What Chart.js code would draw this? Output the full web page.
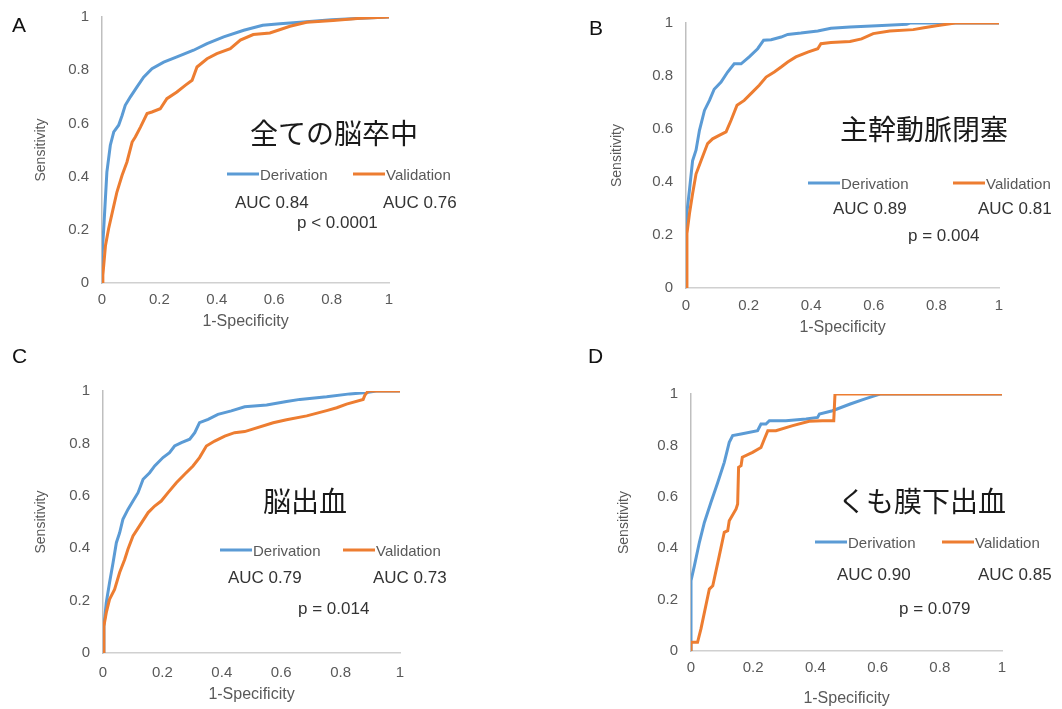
<!DOCTYPE html>
<html>
<head>
<meta charset="utf-8">
<script src="https://cdn.jsdelivr.net/npm/chart.js@4"></script>
<style>
  body { margin: 0; background: #fff; }
  #page { position: relative; width: 1062px; height: 709px; overflow: hidden; font-family: "Liberation Sans", Arial, sans-serif; }
  canvas { position: absolute; }
  .txt { position: absolute; white-space: nowrap; transform: translateY(-50%); line-height: 1; }
  .letter { font-size: 21px; color: #111; }
  .jp { font-family: "Noto Sans CJK JP", sans-serif; font-size: 28px; color: #1a1a1a; }
  .leg { font-size: 15px; color: #595959; }
  .auc { font-size: 17px; color: #333; }
  .swatch { position: absolute; height: 3px; transform: translateY(-50%); }
</style>
</head>
<body>
<div id="page"></div>
<script>
const tickLabels = ["0", "0.2", "0.4", "0.6", "0.8", "1"];
const seriesNames = ["Derivation", "Validation"];
const seriesColors = ["#5B9BD5", "#ED7D31"];
const letters = ["A", "B", "C", "D"];
const titles = ["全ての脳卒中", "主幹動脈閉塞", "脳出血", "くも膜下出血"];
const aucDeriv = ["AUC 0.84", "AUC 0.89", "AUC 0.79", "AUC 0.90"];
const aucValid = ["AUC 0.76", "AUC 0.81", "AUC 0.73", "AUC 0.85"];
const pLabels = ["p < 0.0001", "p = 0.004", "p = 0.014", "p = 0.079"];

// A: all strokes
const aDerivX = [0, 0, 0.006, 0.017, 0.029, 0.041, 0.058, 0.07, 0.081, 0.099, 0.122, 0.145, 0.174, 0.215, 0.261, 0.319, 0.366, 0.424, 0.494, 0.56, 0.62, 0.69, 0.8, 0.9, 1];
const aDerivY = [0, 0.1, 0.204, 0.417, 0.518, 0.568, 0.593, 0.63, 0.668, 0.7, 0.737, 0.774, 0.806, 0.83, 0.85, 0.875, 0.9, 0.925, 0.95, 0.969, 0.975, 0.98, 0.99, 0.995, 1];
const aValidX = [0, 0.003, 0.012, 0.023, 0.041, 0.052, 0.07, 0.087, 0.105, 0.116, 0.134, 0.157, 0.174, 0.203, 0.226, 0.261, 0.29, 0.314, 0.331, 0.366, 0.4, 0.447, 0.482, 0.527, 0.585, 0.655, 0.713, 0.805, 0.9, 1];
const aValidY = [0, 0.03, 0.14, 0.204, 0.29, 0.342, 0.405, 0.455, 0.53, 0.549, 0.586, 0.637, 0.643, 0.655, 0.693, 0.718, 0.743, 0.762, 0.812, 0.843, 0.862, 0.881, 0.913, 0.934, 0.94, 0.965, 0.98, 0.987, 0.995, 1];

// B: large vessel occlusion
const bDerivX = [0, 0, 0.003, 0.011, 0.021, 0.032, 0.043, 0.059, 0.075, 0.09, 0.112, 0.133, 0.154, 0.176, 0.202, 0.229, 0.248, 0.272, 0.304, 0.325, 0.367, 0.421, 0.463, 0.524, 0.61, 0.705, 0.715, 1];
const bDerivY = [0, 0.2, 0.27, 0.369, 0.48, 0.52, 0.595, 0.67, 0.708, 0.75, 0.777, 0.815, 0.846, 0.846, 0.872, 0.903, 0.935, 0.937, 0.947, 0.957, 0.962, 0.97, 0.98, 0.985, 0.99, 0.995, 1, 1];
const bValidX = [0, 0.003, 0.011, 0.021, 0.032, 0.048, 0.069, 0.085, 0.106, 0.128, 0.144, 0.163, 0.186, 0.213, 0.234, 0.256, 0.282, 0.304, 0.325, 0.351, 0.389, 0.421, 0.431, 0.463, 0.524, 0.561, 0.598, 0.651, 0.726, 0.76, 0.8, 0.86, 1];
const bValidY = [0, 0.205, 0.28, 0.356, 0.43, 0.48, 0.545, 0.563, 0.576, 0.589, 0.633, 0.69, 0.708, 0.74, 0.765, 0.796, 0.815, 0.834, 0.853, 0.872, 0.89, 0.903, 0.922, 0.926, 0.93, 0.94, 0.96, 0.97, 0.975, 0.982, 0.99, 1, 1];

// C: intracerebral hemorrhage
const cDerivX = [0, 0.003, 0.011, 0.022, 0.034, 0.045, 0.056, 0.067, 0.084, 0.101, 0.118, 0.135, 0.157, 0.174, 0.202, 0.224, 0.241, 0.264, 0.292, 0.309, 0.325, 0.354, 0.387, 0.432, 0.477, 0.551, 0.618, 0.663, 0.753, 0.831, 0.888, 0.92, 1];
const cDerivY = [0, 0.103, 0.192, 0.268, 0.345, 0.421, 0.459, 0.51, 0.548, 0.58, 0.612, 0.663, 0.688, 0.714, 0.746, 0.765, 0.79, 0.803, 0.816, 0.841, 0.879, 0.892, 0.911, 0.924, 0.94, 0.947, 0.96, 0.968, 0.978, 0.989, 0.994, 1, 1];
const cValidX = [0, 0.003, 0.011, 0.022, 0.039, 0.056, 0.073, 0.084, 0.101, 0.123, 0.152, 0.174, 0.196, 0.219, 0.247, 0.275, 0.303, 0.325, 0.348, 0.376, 0.41, 0.443, 0.477, 0.573, 0.618, 0.686, 0.753, 0.787, 0.82, 0.876, 0.882, 0.893, 1];
const cValidY = [0, 0.103, 0.154, 0.205, 0.243, 0.307, 0.357, 0.396, 0.447, 0.485, 0.536, 0.561, 0.58, 0.612, 0.65, 0.682, 0.714, 0.746, 0.79, 0.809, 0.828, 0.841, 0.845, 0.879, 0.89, 0.905, 0.925, 0.936, 0.95, 0.968, 0.985, 1, 1];

// D: subarachnoid hemorrhage
const dDerivX = [0, 0, 0.011, 0.027, 0.043, 0.064, 0.086, 0.107, 0.123, 0.134, 0.161, 0.214, 0.225, 0.241, 0.252, 0.305, 0.37, 0.407, 0.413, 0.455, 0.512, 0.555, 0.587, 0.608, 1];
const dDerivY = [0, 0.274, 0.332, 0.423, 0.5, 0.578, 0.656, 0.734, 0.812, 0.838, 0.844, 0.857, 0.883, 0.883, 0.896, 0.896, 0.903, 0.909, 0.922, 0.935, 0.961, 0.979, 0.992, 1, 1];
const dValidX = [0, 0, 0.021, 0.032, 0.059, 0.07, 0.091, 0.107, 0.118, 0.123, 0.145, 0.15, 0.153, 0.161, 0.165, 0.198, 0.225, 0.236, 0.247, 0.273, 0.327, 0.38, 0.423, 0.459, 0.463, 0.473, 1];
const dValidY = [0, 0.034, 0.034, 0.086, 0.241, 0.254, 0.371, 0.462, 0.468, 0.507, 0.553, 0.572, 0.715, 0.721, 0.754, 0.773, 0.792, 0.825, 0.857, 0.857, 0.877, 0.894, 0.896, 0.896, 1, 1, 1];

// layout of each panel (pixels on the page)
const panels = [
  { deriv: [aDerivX, aDerivY], valid: [aValidX, aValidY], plot: [102, 17, 389, 283],
    letterPos: [12, 24], titlePos: [250, 132], legendY: 174, legendX: [227, 353],
    aucY: 202, aucX: [235, 383], pPos: [297, 222], xTitleOff: 39, yTitleOff: 61, xTickPad: 8 },
  { deriv: [bDerivX, bDerivY], valid: [bValidX, bValidY], plot: [686, 23, 999, 288],
    letterPos: [589, 27], titlePos: [840, 128], legendY: 183, legendX: [808, 953],
    aucY: 208, aucX: [833, 978], pPos: [908, 235], xTitleOff: 40, yTitleOff: 69, xTickPad: 9 },
  { deriv: [cDerivX, cDerivY], valid: [cValidX, cValidY], plot: [103, 391, 400, 653],
    letterPos: [12, 355], titlePos: [263, 500], legendY: 550, legendX: [220, 343],
    aucY: 577, aucX: [228, 373], pPos: [298, 608], xTitleOff: 42, yTitleOff: 62, xTickPad: 11 },
  { deriv: [dDerivX, dDerivY], valid: [dValidX, dValidY], plot: [691, 394, 1002, 651],
    letterPos: [588, 355], titlePos: [838, 500], legendY: 542, legendX: [815, 942],
    aucY: 574, aucX: [837, 978], pPos: [899, 608], xTitleOff: 48, yTitleOff: 67, xTickPad: 8 },
];

const page = document.getElementById("page");
const PADL = 85, PADT = 12, PADR = 20, XH = 60;
const X_TITLE_SIZE = 16, Y_TITLE_SIZE = 14;

function addText(cls, text, x, y) {
  const el = document.createElement("div");
  el.className = "txt " + cls;
  el.textContent = text;
  el.style.left = x + "px";
  el.style.top = y + "px";
  page.appendChild(el);
}

function addSwatch(color, x, y) {
  const el = document.createElement("div");
  el.className = "swatch";
  el.style.background = color;
  el.style.left = x + "px";
  el.style.top = y + "px";
  el.style.width = "32px";
  page.appendChild(el);
}

const toPts = (xs, ys) => xs.map((x, i) => ({ x, y: ys[i] }));

function makePanel(p, i) {
  const [l, t, r, b] = p.plot;
  const canvas = document.createElement("canvas");
  canvas.width = r - l + PADL + PADR;
  canvas.height = b - t + PADT + XH;
  canvas.style.left = l - PADL + "px";
  canvas.style.top = t - PADT + "px";
  page.appendChild(canvas);

  const family = "'Liberation Sans', Arial, sans-serif";
  const tickFont = { family, size: 15 };

  new Chart(canvas.getContext("2d"), {
    type: "line",
    data: {
      datasets: [
        { label: seriesNames[0], data: toPts(...p.deriv), borderColor: seriesColors[0], order: 1 },
        { label: seriesNames[1], data: toPts(...p.valid), borderColor: seriesColors[1], order: 0 },
      ],
    },
    options: {
      responsive: false,
      animation: false,
      events: [],
      layout: { padding: { left: 0, top: PADT, right: PADR, bottom: 0 } },
      plugins: { legend: { display: false }, tooltip: { enabled: false } },
      elements: { point: { radius: 0 }, line: { borderWidth: 3, tension: 0, fill: false } },
      scales: {
        x: {
          type: "linear", min: 0, max: 1,
          grid: { display: false, drawTicks: false },
          border: { color: "#d0d0d0", width: 1.5 },
          ticks: { stepSize: 0.2, padding: p.xTickPad, color: "#595959", font: tickFont,
                   callback: (v) => tickLabels[Math.round(v * 5)] },
          title: { display: true, text: "1-Specificity", color: "#595959",
                   font: { family, size: X_TITLE_SIZE },
                   padding: { top: 0, bottom: XH - p.xTitleOff - X_TITLE_SIZE * 0.6 } },
          afterFit: (s) => { s.height = XH; s.paddingLeft = 0; s.paddingRight = 0; },
        },
        y: {
          min: 0, max: 1,
          grid: { display: false, drawTicks: false },
          border: { color: "#bfbfbf", width: 1.5 },
          ticks: { stepSize: 0.2, padding: 13, color: "#595959", font: tickFont,
                   callback: (v) => tickLabels[Math.round(v * 5)] },
          title: { display: true, text: "Sensitivity", color: "#595959",
                   font: { family, size: Y_TITLE_SIZE },
                   padding: { top: PADL - p.yTitleOff - Y_TITLE_SIZE * 0.6, bottom: 0 } },
          afterFit: (s) => { s.width = PADL; s.paddingTop = 0; s.paddingBottom = 0; },
        },
      },
    },
  });

  addText("letter", letters[i], ...p.letterPos);
  addText("jp", titles[i], ...p.titlePos);
  addSwatch(seriesColors[0], p.legendX[0], p.legendY);
  addText("leg", seriesNames[0], p.legendX[0] + 33, p.legendY);
  addSwatch(seriesColors[1], p.legendX[1], p.legendY);
  addText("leg", seriesNames[1], p.legendX[1] + 33, p.legendY);
  addText("auc", aucDeriv[i], p.aucX[0], p.aucY);
  addText("auc", aucValid[i], p.aucX[1], p.aucY);
  addText("auc", pLabels[i], ...p.pPos);
}

panels.forEach(makePanel);
</script>
</body>
</html>
